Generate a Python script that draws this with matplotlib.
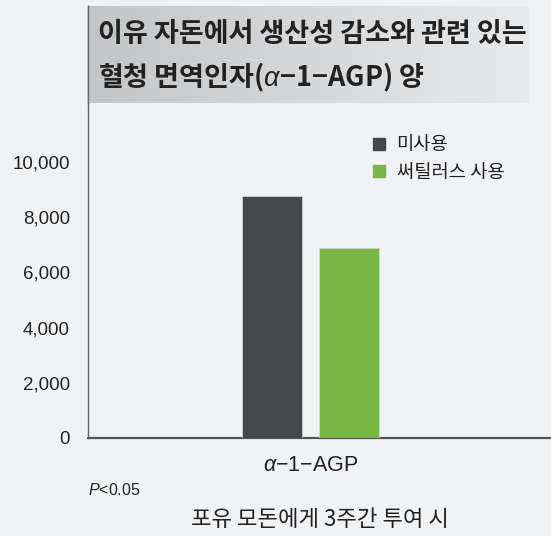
import numpy as np
import matplotlib
matplotlib.use("Agg")
from matplotlib import pyplot as plt
from matplotlib.lines import Line2D
from matplotlib.colors import LinearSegmentedColormap

# data
groups = ["미사용", "써틸러스 사용"]
values = [8750, 6870]
colors = ["#464749", "#76b843"]
yticks = [0, 2000, 4000, 6000, 8000, 10000]
ytick_labels = ["0", "2,000", "4,000", "6,000", "8,000", "10,000"]

plt.rcParams['font.family'] = ['Liberation Sans', 'Noto Sans CJK KR', 'DejaVu Sans']
plt.rcParams['mathtext.fontset'] = 'custom'
plt.rcParams['mathtext.rm'] = 'Liberation Sans'
plt.rcParams['mathtext.it'] = 'Liberation Sans:italic'

W, H = 551, 536
bg = "#f1f2f4"
fig = plt.figure(figsize=(W / 100, H / 100), dpi=100, facecolor=bg)

# axes: left spine at x=88, baseline at y=438, top at y=6
ax = fig.add_axes([88 / W, (H - 438) / H, (W - 88) / W, 432 / H])
ax.set_facecolor(bg)

px = 77.0  # pixels per x unit
xs = np.array([-0.5, 0.5])
ax.bar(xs, values, width=60 / px, color=colors, edgecolor="#d0d2d4", linewidth=0.6, zorder=3)
ax.set_xlim(-(310.5 - 88) / px, (551 - 310.5) / px)
ax.set_ylim(0, 432 / 0.0276)

ax.set_yticks(yticks)
ax.set_yticklabels(ytick_labels, fontsize=13.5, color="#222222")
ax.tick_params(axis="y", length=0, pad=13)
ax.set_xticks([0])
ax.set_xticklabels([r"$\alpha$" + "\u22121\u2212AGP"], fontsize=15.5, color="#222222")
ax.tick_params(axis="x", length=0, pad=12)

for s in ["top", "right"]:
    ax.spines[s].set_visible(False)
ax.spines["left"].set_color("#666666")
ax.spines["left"].set_linewidth(1.0)
ax.spines["bottom"].set_color("#555555")
ax.spines["bottom"].set_linewidth(1.6)

# gradient title box
tax = fig.add_axes([88 / W, (H - 103) / H, (529 - 88) / W, 97 / H])
grad = np.linspace(0, 1, 256).reshape(1, -1)
cmap = LinearSegmentedColormap.from_list("g", ["#c4c5c7", "#e9eaec"])
tax.imshow(grad, aspect="auto", cmap=cmap, extent=[0, 1, 0, 1])
tax.set_axis_off()
fig.add_artist(plt.Line2D([88 / W, 88 / W], [(H - 103) / H, (H - 6) / H], color="#666666", lw=1.0))

title_kw = dict(fontsize=19.5, fontweight="bold", color="#222222",
                family=['Noto Sans CJK KR', 'DejaVu Sans'], va="center", ha="left")
fig.text(98 / W, 1 - 34 / H, "이유 자돈에서 생산성 감소와 관련 있는", **title_kw)
fig.text(98 / W, 1 - 77 / H, "혈청 면역인자(" + r"$\alpha$" + "\u22121\u2212AGP) 양", **title_kw)

# legend
handles = [Line2D([], [], marker="s", ls="", markersize=8.5, color=c) for c in colors]
fig.legend(handles, groups, loc="upper left", bbox_to_anchor=(360 / W, 1 - 125 / H),
           frameon=False, prop={'family': ['Noto Sans CJK KR'], 'size': 13.5},
           handlelength=1.0, handletextpad=0.45, labelspacing=0.35, borderpad=0,
           labelcolor="#222222")

fig.text(88 / W, 1 - 490 / H, r"$P$<0.05", fontsize=11.5, color="#222222", va="center", ha="left")
fig.text(320 / W, 1 - 520 / H, "포유 모돈에게 3주간 투여 시", fontsize=16, color="#222222",
         family=['Noto Sans CJK KR'], va="center", ha="center")

fig.savefig("out.png", dpi=100, facecolor=bg)
